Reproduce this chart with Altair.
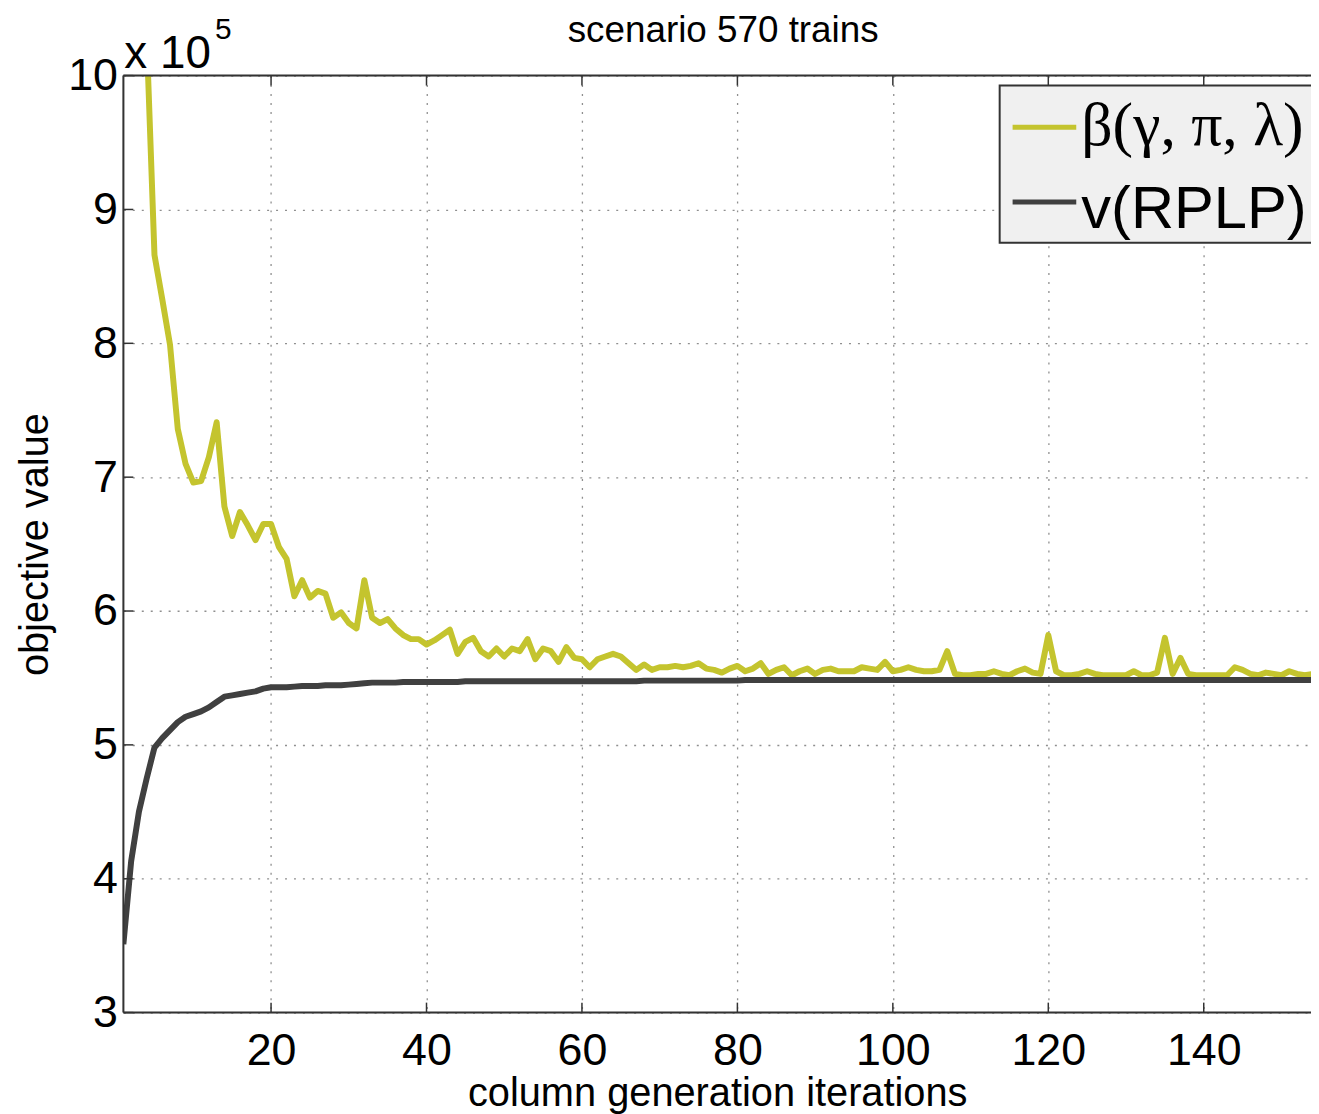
import altair as alt
import pandas as pd

# ---------------- data (values in units of 10^5) ----------------
beta_first_iteration = 4
beta_values = [
    10.29, 8.66, 8.33, 7.99, 7.36, 7.10, 6.96, 6.97, 7.15, 7.41,   # 4-13
    6.78, 6.56, 6.74, 6.64, 6.53, 6.65, 6.65, 6.48, 6.39, 6.11,    # 14-23
    6.23, 6.10, 6.15, 6.13, 5.95, 5.99, 5.91, 5.87, 6.23, 5.95,    # 24-33
    5.91, 5.94, 5.87, 5.82, 5.79, 5.79, 5.75, 5.78, 5.82, 5.86,    # 34-43
    5.68, 5.77, 5.80, 5.70, 5.66, 5.72, 5.66, 5.72, 5.70, 5.79,    # 44-53
    5.64, 5.72, 5.70, 5.62, 5.73, 5.65, 5.64, 5.58, 5.64, 5.66,    # 54-63
    5.68, 5.66, 5.61, 5.56, 5.60, 5.56, 5.58, 5.58, 5.59, 5.58,    # 64-73
    5.59, 5.61, 5.57, 5.56, 5.54, 5.57, 5.59, 5.55, 5.57, 5.61,    # 74-83
    5.53, 5.56, 5.58, 5.52, 5.55, 5.57, 5.53, 5.56, 5.57, 5.55,    # 84-93
    5.55, 5.55, 5.58, 5.57, 5.56, 5.62, 5.55, 5.56, 5.58, 5.56,    # 94-103
    5.55, 5.55, 5.56, 5.70, 5.53, 5.52, 5.52, 5.53, 5.53, 5.55,    # 104-113
    5.53, 5.52, 5.55, 5.57, 5.54, 5.53, 5.82, 5.55, 5.52, 5.52,    # 114-123
    5.53, 5.55, 5.53, 5.52, 5.52, 5.52, 5.52, 5.55, 5.52, 5.52,    # 124-133
    5.54, 5.80, 5.53, 5.65, 5.53, 5.52, 5.52, 5.52, 5.52, 5.52,    # 134-143
    5.58, 5.56, 5.53, 5.52, 5.54, 5.53, 5.52, 5.55, 5.53, 5.52,    # 144-153
    5.53,                                                          # 154
]

rplp_first_iteration = 1
rplp_values = [
    3.51, 4.13, 4.50, 4.75, 4.98, 5.05, 5.11, 5.17, 5.21, 5.23,    # 1-10
    5.25, 5.28, 5.32, 5.36, 5.37, 5.38, 5.39, 5.40, 5.42, 5.43,    # 11-20
    5.43, 5.43, 5.435, 5.44, 5.44, 5.44, 5.445, 5.445, 5.445, 5.45,  # 21-30
    5.455, 5.46, 5.465, 5.465, 5.465, 5.465, 5.47, 5.47, 5.47, 5.47,  # 31-40
    5.47, 5.47, 5.47, 5.47, 5.475, 5.475, 5.475, 5.475, 5.475, 5.475,  # 41-50
    5.475, 5.475, 5.475, 5.475, 5.475, 5.475, 5.475, 5.475, 5.475, 5.475,  # 51-60
    5.475, 5.475, 5.475, 5.475, 5.475, 5.475, 5.475, 5.48, 5.48, 5.48,  # 61-70
    5.48, 5.48, 5.48, 5.48, 5.48, 5.48, 5.48, 5.48, 5.48, 5.48,    # 71-80
    5.485, 5.485, 5.485, 5.485, 5.485, 5.485, 5.485, 5.485, 5.485, 5.485,  # 81-90
    5.485, 5.485, 5.485, 5.485, 5.485, 5.485, 5.485, 5.485, 5.485, 5.485,  # 91-100
    5.485, 5.485, 5.485, 5.485, 5.485, 5.485, 5.485, 5.485, 5.485, 5.485,  # 101-110
    5.485, 5.485, 5.485, 5.485, 5.485, 5.485, 5.485, 5.485, 5.485, 5.485,  # 111-120
    5.485, 5.485, 5.485, 5.485, 5.485, 5.485, 5.485, 5.485, 5.485, 5.485,  # 121-130
    5.485, 5.485, 5.485, 5.485, 5.485, 5.485, 5.485, 5.485, 5.485, 5.485,  # 131-140
    5.485, 5.485, 5.485, 5.485, 5.485, 5.485, 5.485, 5.485, 5.485, 5.485,  # 141-150
    5.485, 5.485, 5.485, 5.485,                                    # 151-154
]

x_ticks = [20, 40, 60, 80, 100, 120, 140]
y_ticks = [3, 4, 5, 6, 7, 8, 9, 10]
x_domain = [1, 153.8]
y_domain = [3, 10]

legend_labels = ["β(γ, π, λ)", "v(RPLP)"]
series_colors = ["#c4c42e", "#404040"]

chart_title = "scenario 570 trains"
x_title = "column generation iterations"
y_title = "objective value"
multiplier_base = "x 10"
multiplier_exp = "5"

# ---------------- layout / style ----------------
W, H = 1194, 942
FONT = "Liberation Sans"
FRAME = "#333333"

beta_df = pd.DataFrame({
    "iteration": list(range(beta_first_iteration, beta_first_iteration + len(beta_values))),
    "value": beta_values,
})
rplp_df = pd.DataFrame({
    "iteration": list(range(rplp_first_iteration, rplp_first_iteration + len(rplp_values))),
    "value": rplp_values,
})
one_row = pd.DataFrame({"k": [0]})

xs = alt.Scale(domain=x_domain, nice=False, zero=False)
ys = alt.Scale(domain=y_domain, nice=False, zero=False)

x_axis = alt.Axis(
    values=x_ticks, title=x_title, grid=True, ticks=False, domain=False,
    labelFont=FONT, labelFontSize=45, labelColor="black", labelPadding=16,
    labelOverlap=False, format="d",
    titleFont=FONT, titleFontSize=40, titleFontWeight="normal", titleColor="black",
    titlePadding=0,
    gridColor="#8f8f8f", gridDash=[2, 7], gridWidth=1.3,
)
y_axis = alt.Axis(
    values=y_ticks, title=y_title, grid=True, ticks=False, domain=False,
    labelFont=FONT, labelFontSize=45, labelColor="black", labelPadding=6,
    labelOverlap=False, format="d",
    titleFont=FONT, titleFontSize=40, titleFontWeight="normal", titleColor="black",
    titlePadding=12,
    gridColor="#8f8f8f", gridDash=[2, 7], gridWidth=1.3,
)

X = alt.X("iteration:Q", scale=xs, axis=x_axis)
Y = alt.Y("value:Q", scale=ys, axis=y_axis)

line_beta = alt.Chart(beta_df).mark_line(
    color=series_colors[0], strokeWidth=6, clip=True, strokeJoin="round"
).encode(x=X, y=Y)

line_rplp = alt.Chart(rplp_df).mark_line(
    color=series_colors[1], strokeWidth=6, clip=True, strokeJoin="round"
).encode(x=X, y=Y)

# frame (left, bottom, top)
frame_top = alt.Chart(one_row).mark_rule(color=FRAME, strokeWidth=2).encode(
    x=alt.value(0), x2=alt.value(W), y=alt.value(0))
frame_bottom = alt.Chart(one_row).mark_rule(color=FRAME, strokeWidth=2).encode(
    x=alt.value(0), x2=alt.value(W), y=alt.value(H))
frame_left = alt.Chart(one_row).mark_rule(color=FRAME, strokeWidth=2).encode(
    x=alt.value(0), y=alt.value(0), y2=alt.value(H))

# inward ticks
xt_df = pd.DataFrame({"iteration": x_ticks})
yt_df = pd.DataFrame({"value": y_ticks})
ticks_bottom = alt.Chart(xt_df).mark_rule(color=FRAME, strokeWidth=1.5).encode(
    x=X, y=alt.value(H), y2=alt.value(H - 10))
ticks_top = alt.Chart(xt_df).mark_rule(color=FRAME, strokeWidth=1.5).encode(
    x=X, y=alt.value(0), y2=alt.value(10))
ticks_left = alt.Chart(yt_df).mark_rule(color=FRAME, strokeWidth=1.5).encode(
    y=Y, x=alt.value(0), x2=alt.value(10))

# legend
legend_box = alt.Chart(one_row).mark_rect(
    fill="#f0f0f0", stroke=FRAME, strokeWidth=2
).encode(x=alt.value(881), x2=alt.value(W + 60), y=alt.value(10), y2=alt.value(168))
legend_line1 = alt.Chart(one_row).mark_rule(color=series_colors[0], strokeWidth=5).encode(
    x=alt.value(894), x2=alt.value(958), y=alt.value(52))
legend_line2 = alt.Chart(one_row).mark_rule(color=series_colors[1], strokeWidth=5).encode(
    x=alt.value(894), x2=alt.value(958), y=alt.value(127))
legend_text1 = alt.Chart(one_row).mark_text(
    font="Liberation Serif", fontSize=62, align="left", baseline="alphabetic", color="black"
).encode(x=alt.value(963), y=alt.value(70), text=alt.value(legend_labels[0]))
legend_text2 = alt.Chart(one_row).mark_text(
    font=FONT, fontSize=60, align="left", baseline="alphabetic", color="black"
).encode(x=alt.value(963), y=alt.value(153), text=alt.value(legend_labels[1]))

# "x 10^5" multiplier
mult_base = alt.Chart(one_row).mark_text(
    font=FONT, fontSize=46, align="left", baseline="alphabetic", color="black"
).encode(x=alt.value(1), y=alt.value(-8), text=alt.value(multiplier_base))
mult_exp = alt.Chart(one_row).mark_text(
    font=FONT, fontSize=30, align="left", baseline="alphabetic", color="black"
).encode(x=alt.value(92), y=alt.value(-37), text=alt.value(multiplier_exp))

# chart title as text
title_mark = alt.Chart(one_row).mark_text(
    font=FONT, fontSize=37, align="center", baseline="alphabetic", color="black"
).encode(x=alt.value(W / 2 + 6), y=alt.value(-34), text=alt.value(chart_title))

chart = alt.layer(
    line_beta, line_rplp,
    ticks_bottom, ticks_top, ticks_left,
    frame_top, frame_bottom, frame_left,
    legend_box, legend_line1, legend_line2, legend_text1, legend_text2,
    mult_base, mult_exp, title_mark,
).properties(
    width=W, height=H,
    autosize=alt.AutoSizeParams(type="none"),
    padding={"left": 116, "top": 65, "right": 0, "bottom": 99},
).configure_view(
    fill="#e6e6e6", stroke=None
).configure(background="white")

chart.save("out.html", embed_options={"renderer": "svg", "actions": False})
